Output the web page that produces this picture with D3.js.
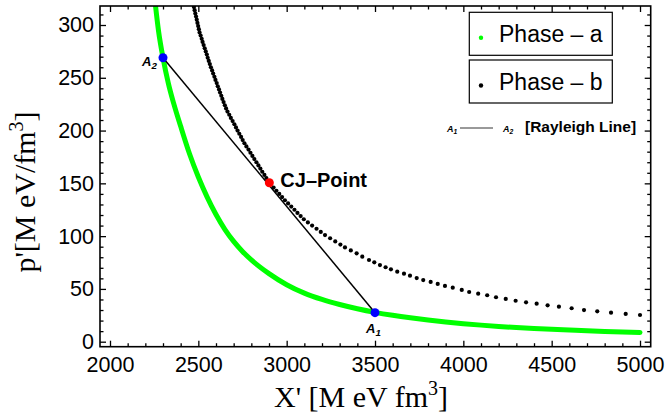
<!DOCTYPE html>
<html lang="en">
<head>
<meta charset="UTF-8">
<title>Rayleigh line between two phases</title>
<script src="https://d3js.org/d3.v7.min.js"></script>
<style>
    body { margin: 0; background: #fff; }
    .tick text { font-family: "Liberation Sans", Arial, sans-serif; font-size: 21.5px; fill: #000; }
    .axis-title { font-family: "Liberation Serif", "Times New Roman", serif; font-size: 30px; fill: #000; }
    .legend-text { font-family: "Liberation Sans", Arial, sans-serif; font-size: 23px; fill: #000; }
</style>
</head>
<body>
<svg id="chart" width="667" height="415"></svg>
<script>
// Phase a (green curve): [X', p']
const phaseA = [
    [2255, 322], [2275, 294], [2300, 269], [2330, 245], [2360, 226], [2400, 204],
    [2450, 178], [2500, 156], [2550, 137], [2600, 120.5], [2650, 106.5], [2700, 95],
    [2750, 85.5], [2800, 77.5], [2900, 64.5], [3000, 54], [3100, 46], [3200, 40],
    [3300, 35.2], [3400, 31.2], [3500, 27.8], [3600, 25], [3700, 22.6], [3800, 20.5],
    [3900, 18.7], [4000, 17.1], [4100, 15.7], [4200, 14.5], [4300, 13.4], [4400, 12.5],
    [4500, 11.7], [4600, 11], [4700, 10.3], [4800, 9.7], [4900, 9.2], [5000, 8.8]
];

// Phase b (black dots): [X', p']
const phaseB = [
    [2475, 317], [2479, 314], [2483, 311], [2487, 308], [2491, 305], [2495, 302], [2499, 299],
    [2503, 296], [2507, 293], [2513, 290], [2519, 287], [2524, 284], [2530, 281], [2536, 278],
    [2542, 275], [2548, 272], [2553, 269], [2559, 266], [2565, 263], [2571, 260], [2578, 257],
    [2584, 254], [2591, 251], [2597, 248], [2604, 245], [2610, 242], [2617, 239], [2623, 236],
    [2630, 233], [2636, 230], [2643, 227], [2650, 224], [2657, 221], [2665, 218], [2675, 215],
    [2684, 212], [2694, 209], [2704, 206], [2713, 203], [2722, 200], [2732, 197], [2742, 194],
    [2751, 191], [2761, 188], [2772, 185], [2784, 182], [2795, 179], [2806, 176], [2817, 173],
    [2829, 170], [2840, 167], [2851, 164], [2862, 161], [2874, 158], [2885, 155], [2897, 152],
    [2910, 149], [2926, 146], [2942, 143], [2958, 140], [2974, 137], [2990, 134], [3008, 131],
    [3026, 128], [3044, 125], [3061, 122], [3079, 119], [3097, 116], [3120, 113], [3144, 110],
    [3169, 107], [3193, 104], [3217, 101], [3246, 98], [3275, 95], [3304, 92], [3330, 89.3],
    [3363, 86.5], [3396, 83.7], [3428, 80.5], [3466, 77.4], [3496, 75.2], [3528, 72.6],
    [3560, 70.5], [3590, 68.6], [3626, 66.3], [3664, 64.4], [3698, 62.5], [3736, 60.3],
    [3773, 58.4], [3815, 56.6], [3855, 54.7], [3896, 52.8], [3940, 51.2], [3991, 49.0],
    [4033, 47.1], [4084, 45.5], [4135, 44.0], [4185, 42.1], [4240, 40.5], [4296, 38.8],
    [4355, 37.3], [4415, 36.0], [4477, 34.5], [4541, 33.2], [4613, 31.7], [4683, 30.0],
    [4758, 28.8], [4836, 27.5], [4919, 26.3], [5000, 25.3]
];

// special points
const pointA1 = [3500, 27.5];
const pointA2 = [2300, 269];
const cjPoint = [2902, 150.6];

// ticks
const xMajor = [2000, 2500, 3000, 3500, 4000, 4500, 5000];
const yMajor = [0, 50, 100, 150, 200, 250, 300];
const xMinor = d3.range(2000, 5061, 100).filter(v => v % 500 !== 0);
const yMinor = d3.range(0, 318, 10).filter(v => v % 50 !== 0);

const svg = d3.select("#chart");
const frameL = 100, frameR = 650.7, frameT = 6, frameB = 346.7;

const x = d3.scaleLinear().domain([1943.4, 5060.5]).range([frameL, frameR]);
const y = d3.scaleLinear().domain([-4.74, 318]).range([frameB, frameT]);

// clip to the frame
svg.append("clipPath").attr("id", "plot-clip")
    .append("rect")
    .attr("x", frameL).attr("y", frameT)
    .attr("width", frameR - frameL).attr("height", frameB - frameT);

const plot = svg.append("g").attr("clip-path", "url(#plot-clip)");

// phase a
plot.append("path")
    .datum(phaseA)
    .attr("fill", "none")
    .attr("stroke", "#00ff00")
    .attr("stroke-width", 5)
    .attr("stroke-linecap", "round")
    .attr("d", d3.line().x(d => x(d[0])).y(d => y(d[1])).curve(d3.curveMonotoneX));

// phase b
plot.selectAll(".dot-b")
    .data(phaseB)
    .enter().append("circle")
    .attr("class", "dot-b")
    .attr("cx", d => x(d[0]))
    .attr("cy", d => y(d[1]))
    .attr("r", 2.1)
    .attr("fill", "#000");

// Rayleigh line
plot.append("line")
    .attr("x1", x(pointA2[0])).attr("y1", y(pointA2[1]))
    .attr("x2", x(pointA1[0])).attr("y2", y(pointA1[1]))
    .attr("stroke", "#000")
    .attr("stroke-width", 1.5);

// A1, A2, CJ markers
plot.selectAll(".pt-a")
    .data([pointA1, pointA2])
    .enter().append("circle")
    .attr("cx", d => x(d[0]))
    .attr("cy", d => y(d[1]))
    .attr("r", 4.5)
    .attr("fill", "#0000ff");

plot.append("circle")
    .attr("cx", x(cjPoint[0]))
    .attr("cy", y(cjPoint[1]))
    .attr("r", 4.5)
    .attr("fill", "#ff0000");

// subscripted A labels
function aLabel(g, px, py, sub, size) {
    const t = g.append("text")
        .attr("x", px).attr("y", py)
        .attr("font-family", "Liberation Sans, Arial, sans-serif")
        .attr("font-weight", "bold")
        .attr("font-style", "italic")
        .attr("font-size", size);
    t.append("tspan").text("A");
    t.append("tspan").attr("dy", size * 0.25).attr("font-size", size * 0.75).text(sub);
}
aLabel(svg, x(pointA2[0]) - 21, y(pointA2[1]) + 8, "2", 13);
aLabel(svg, x(pointA1[0]) - 9, y(pointA1[1]) + 20, "1", 13);

svg.append("text")
    .attr("x", x(cjPoint[0]) + 11)
    .attr("y", y(cjPoint[1]) + 4)
    .attr("font-family", "Liberation Sans, Arial, sans-serif")
    .attr("font-weight", "bold")
    .attr("font-size", 20)
    .text("CJ\u2013Point");

// axes: ticks inward on all four sides
const fmt = d3.format("d");
const xb = svg.append("g").attr("transform", `translate(0,${frameB})`)
    .call(d3.axisBottom(x).tickValues(xMajor).tickSize(-6).tickPadding(8).tickFormat(fmt));
const xbm = svg.append("g").attr("transform", `translate(0,${frameB})`)
    .call(d3.axisBottom(x).tickValues(xMinor).tickSize(-3.5).tickFormat(""));
const xt = svg.append("g").attr("transform", `translate(0,${frameT})`)
    .call(d3.axisTop(x).tickValues(xMajor).tickSize(-6).tickFormat(""));
const xtm = svg.append("g").attr("transform", `translate(0,${frameT})`)
    .call(d3.axisTop(x).tickValues(xMinor).tickSize(-3.5).tickFormat(""));
const yl = svg.append("g").attr("transform", `translate(${frameL},0)`)
    .call(d3.axisLeft(y).tickValues(yMajor).tickSize(-6).tickPadding(6).tickFormat(fmt));
const ylm = svg.append("g").attr("transform", `translate(${frameL},0)`)
    .call(d3.axisLeft(y).tickValues(yMinor).tickSize(-3.5).tickFormat(""));
const yr = svg.append("g").attr("transform", `translate(${frameR},0)`)
    .call(d3.axisRight(y).tickValues(yMajor).tickSize(-6).tickFormat(""));
const yrm = svg.append("g").attr("transform", `translate(${frameR},0)`)
    .call(d3.axisRight(y).tickValues(yMinor).tickSize(-3.5).tickFormat(""));

[xb, xbm, xt, xtm, yl, ylm, yr, yrm].forEach(g => {
    g.select(".domain").remove();
    g.selectAll(".tick line").attr("stroke", "#000").attr("stroke-width", 1.3);
});
xb.selectAll(".tick text").attr("dy", "0.71em").attr("y", 10);

// frame
svg.append("rect")
    .attr("x", frameL).attr("y", frameT)
    .attr("width", frameR - frameL).attr("height", frameB - frameT)
    .attr("fill", "none")
    .attr("stroke", "#000")
    .attr("stroke-width", 1.6);

// axis titles
const xTitle = svg.append("text").attr("class", "axis-title")
    .attr("x", 361).attr("y", 407).attr("text-anchor", "middle");
xTitle.append("tspan").text("X' [M eV fm");
xTitle.append("tspan").attr("dy", -12).attr("font-size", 20).text("3");
xTitle.append("tspan").attr("dy", 12).text("]");

const yTitle = svg.append("text").attr("class", "axis-title")
    .attr("transform", "translate(35,192) rotate(-90)")
    .attr("text-anchor", "middle");
yTitle.append("tspan").text("p'[M eV/fm");
yTitle.append("tspan").attr("dy", -12).attr("font-size", 20).text("3");
yTitle.append("tspan").attr("dy", 12).text("]");

// legend
const legendItems = [
    { label: "Phase \u2013 a", color: "#00ff00", y0: 12.3 },
    { label: "Phase \u2013 b", color: "#000", y0: 60 }
];
const legend = svg.append("g");
legendItems.forEach(it => {
    legend.append("rect")
        .attr("x", 469.3).attr("y", it.y0)
        .attr("width", 143).attr("height", 43)
        .attr("fill", "#fff")
        .attr("stroke", "#000")
        .attr("stroke-width", 1.2);
    legend.append("circle")
        .attr("cx", 481).attr("cy", it.y0 + 25.5)
        .attr("r", 2.2)
        .attr("fill", it.color);
    legend.append("text").attr("class", "legend-text")
        .attr("x", 499).attr("y", it.y0 + 29.5)
        .text(it.label);
});

aLabel(legend, 447, 131.5, "1", 9);
legend.append("line")
    .attr("x1", 460).attr("x2", 493)
    .attr("y1", 128).attr("y2", 128)
    .attr("stroke", "#000").attr("stroke-width", 0.8);
aLabel(legend, 503, 131.5, "2", 9);
legend.append("text")
    .attr("x", 525).attr("y", 132)
    .attr("font-family", "Liberation Sans, Arial, sans-serif")
    .attr("font-weight", "bold")
    .attr("font-size", 15.5)
    .text("[Rayleigh Line]");
</script>
</body>
</html>
